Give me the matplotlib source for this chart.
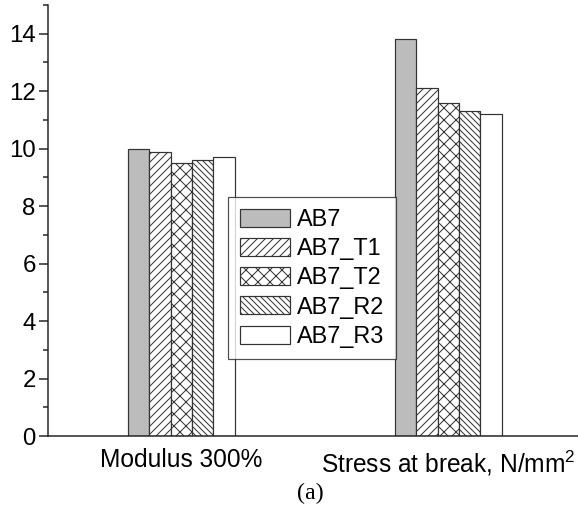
import matplotlib

matplotlib.use("Agg")
import matplotlib.pyplot as plt
import numpy as np
from matplotlib.ticker import MultipleLocator

categories = ["Modulus 300%", "Stress at break, N/mm$^2$"]
samples = ["AB7", "AB7_T1", "AB7_T2", "AB7_R2", "AB7_R3"]
values = {
    "AB7": [10.0, 13.8],
    "AB7_T1": [9.9, 12.1],
    "AB7_T2": [9.5, 11.6],
    "AB7_R2": [9.6, 11.3],
    "AB7_R3": [9.7, 11.2],
}
fills = ["#bcbcbc", "white", "white", "white", "white"]
hatches = [None, "///", "xx", "\\\\\\\\", None]

plt.rcParams["font.family"] = ["Liberation Sans", "DejaVu Sans"]
plt.rcParams["mathtext.fontset"] = "custom"
plt.rcParams["mathtext.rm"] = "Liberation Sans"
plt.rcParams["hatch.linewidth"] = 1.0

DPI = 72
fig = plt.figure(figsize=(578 / DPI, 516 / DPI), dpi=DPI)
ax = fig.add_axes([47.7 / 578, 1 - 436.2 / 516, 534.1 / 578, 431.2 / 516])

x = np.arange(len(categories))
width = 0.08
offsets = (np.arange(len(samples)) - (len(samples) - 1) / 2) * width
for name, off, fc, h in zip(samples, offsets, fills, hatches):
    ax.bar(
        x + off,
        values[name],
        width,
        color=fc,
        edgecolor="#333333",
        linewidth=1.2,
        hatch=h,
        label=name,
        zorder=2,
    )

ax.set_xlim(-0.5, 1.5)
ax.set_ylim(0, 15)
ax.set_xticks(x)
ax.set_xticklabels(categories, fontsize=24.5)
ax.tick_params(axis="x", length=0, pad=12)
ax.yaxis.set_major_locator(MultipleLocator(2))
ax.yaxis.set_minor_locator(MultipleLocator(1))
ax.tick_params(axis="y", which="major", length=9, width=1.5, labelsize=24, pad=3, color="#222222")
ax.tick_params(axis="y", which="minor", length=5, width=1.5, color="#222222")
for side in ("top", "right"):
    ax.spines[side].set_visible(False)
for side in ("left", "bottom"):
    ax.spines[side].set_linewidth(1.5)
    ax.spines[side].set_color("#222222")

leg = ax.legend(
    loc="upper left",
    bbox_to_anchor=(228 / 578, 1 - 197 / 516),
    bbox_transform=fig.transFigure,
    borderaxespad=0,
    fontsize=23.5,
    frameon=True,
    fancybox=False,
    handlelength=2.15,
    handleheight=0.8,
    handletextpad=0.27,
    labelspacing=0.3,
    borderpad=0.5,
)
leg.get_frame().set_edgecolor("#222222")
leg.get_frame().set_linewidth(1.2)

fig.text(310 / 578, 1 - 493 / 516, "(a)", ha="center", va="center",
         fontsize=24, family=["Liberation Serif", "DejaVu Serif"])

fig.savefig("out.png", dpi=DPI)
